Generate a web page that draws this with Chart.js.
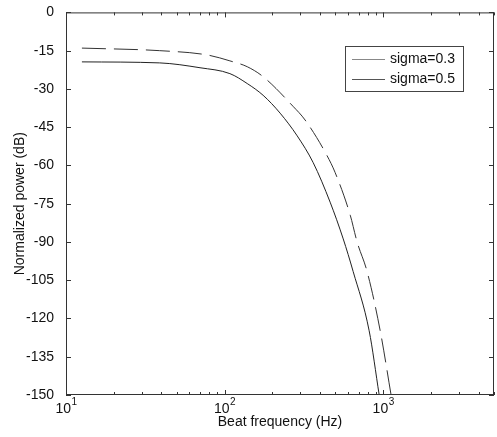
<!DOCTYPE html>
<html>
<head>
<meta charset="utf-8">
<script src="https://cdn.jsdelivr.net/npm/chart.js@4.4.1/dist/chart.umd.min.js"></script>
<style>
  html, body { margin: 0; padding: 0; background: #fff; }
  #wrap { width: 497px; height: 437px; }
</style>
</head>
<body>
<div id="wrap"><canvas id="powerChart"></canvas></div>
<script>
// values
const sigma03Freq  = [12.6, 39, 78, 108, 139, 175, 270, 322, 443, 498, 620, 685, 792, 958, 1122];
const sigma03Power = [-14, -15, -16.7, -19, -21.3, -25.2, -36.8, -42.2, -56.2, -62.8, -79.5, -90, -101.6, -124.8, -150];
const sigma05Freq  = [12.6, 39, 70, 108, 139, 175, 224, 287, 362, 463, 560, 647, 816, 944];
const sigma05Power = [-19.4, -19.8, -21.7, -24, -27.9, -32.5, -39.5, -48.4, -58.9, -74.4, -88.8, -101.6, -124.8, -150];
const labels = ["sigma=0.3", "sigma=0.5"];
const yTicks = [0, -15, -30, -45, -60, -75, -90, -105, -120, -135, -150];
const xMin = 10, xMax = 5000;

const font = "Liberation Sans, Arial, sans-serif";

function toPoints(xs, ys) {
  return xs.map((x, i) => ({ x: x, y: ys[i] }));
}

function logTicks() {
  const t = [];
  for (let d = 10; d <= xMax; d *= 10) {
    for (let k = 1; k <= 9; k++) {
      if (d * k <= xMax) t.push({ value: d * k });
    }
  }
  return t;
}

function isDecade(v) {
  const e = Math.log10(v);
  return Math.abs(e - Math.round(e)) < 1e-9;
}

// matlab style box, inward ticks on all four sides, 10^n labels and legend inside the plot
const boxPlugin = {
  id: "boxPlugin",
  afterDraw(chart) {
    const ctx = chart.ctx;
    const a = chart.chartArea;
    const xs = chart.scales.x, ys = chart.scales.y;
    ctx.save();
    ctx.strokeStyle = "#333";
    ctx.lineWidth = 1;
    ctx.strokeRect(a.left + 0.5, a.top + 0.5, a.right - a.left - 1, a.bottom - a.top - 1);
    ctx.beginPath();
    xs.ticks.forEach(t => {
      const px = Math.round(xs.getPixelForValue(t.value)) + 0.5;
      const len = isDecade(t.value) ? 5 : 3;
      ctx.moveTo(px, a.bottom); ctx.lineTo(px, a.bottom - len);
      ctx.moveTo(px, a.top); ctx.lineTo(px, a.top + len);
    });
    yTicks.forEach(v => {
      const py = Math.round(ys.getPixelForValue(v)) + 0.5;
      ctx.moveTo(a.left, py); ctx.lineTo(a.left + 5, py);
      ctx.moveTo(a.right, py); ctx.lineTo(a.right - 5, py);
    });
    ctx.stroke();

    // x tick labels as 10 with superscript exponent
    ctx.fillStyle = "#111";
    ctx.textBaseline = "alphabetic";
    xs.ticks.forEach(t => {
      if (!isDecade(t.value)) return;
      const px = xs.getPixelForValue(t.value);
      const exp = String(Math.round(Math.log10(t.value)));
      ctx.font = "14px " + font;
      const w1 = ctx.measureText("10").width;
      ctx.font = "10px " + font;
      const w2 = ctx.measureText(exp).width;
      const x0 = px - (w1 + w2) / 2;
      ctx.font = "14px " + font;
      ctx.fillText("10", x0, a.bottom + 18);
      ctx.font = "10px " + font;
      ctx.fillText(exp, x0 + w1 + 0.5, a.bottom + 10);
    });

    // legend
    const lx = 345, ly = 46, lw = 118, lh = 45;
    ctx.fillStyle = "#fff";
    ctx.fillRect(lx, ly, lw, lh);
    ctx.strokeStyle = "#444";
    ctx.strokeRect(lx + 0.5, ly + 0.5, lw, lh);
    ctx.font = "14px " + font;
    ctx.textBaseline = "middle";
    chart.data.datasets.forEach((ds, i) => {
      const y = ly + 13 + i * 20 + 0.5;
      ctx.strokeStyle = i === 0 ? "#888" : "#555";
      ctx.beginPath();
      ctx.moveTo(lx + 7, y); ctx.lineTo(lx + 40, y);
      ctx.stroke();
      ctx.fillStyle = "#111";
      ctx.fillText(ds.label, lx + 45, y);
    });
    ctx.restore();
  }
};

new Chart(document.getElementById("powerChart"), {
  type: "line",
  data: {
    datasets: [
      { label: labels[0], data: toPoints(sigma03Freq, sigma03Power), borderColor: "#333",
        borderWidth: 1, borderDash: [24, 8], pointRadius: 0, fill: false, cubicInterpolationMode: "monotone" },
      { label: labels[1], data: toPoints(sigma05Freq, sigma05Power), borderColor: "#222",
        borderWidth: 1, pointRadius: 0, fill: false, cubicInterpolationMode: "monotone" }
    ]
  },
  options: {
    responsive: true,
    maintainAspectRatio: false,
    animation: false,
    layout: { padding: { top: 8, right: 3, left: 0, bottom: 0 } },
    plugins: { legend: { display: false }, tooltip: { enabled: false } },
    scales: {
      x: {
        type: "logarithmic",
        min: xMin, max: xMax,
        grid: { display: false },
        border: { display: false },
        afterBuildTicks: s => { s.ticks = logTicks(); },
        afterFit: s => { s.height = 42; },
        ticks: { autoSkip: false, maxRotation: 0, callback: () => "" },
        title: { display: true, text: "Beat frequency (Hz)", color: "#111",
                 font: { family: font, size: 14 }, padding: { top: 0, bottom: 6 } }
      },
      y: {
        min: -150, max: 0,
        grid: { display: false },
        border: { display: false },
        afterBuildTicks: s => { s.ticks = yTicks.map(v => ({ value: v })); },
        afterFit: s => { s.width = 66; },
        ticks: { padding: 4, color: "#111", font: { family: font, size: 14 } },
        title: { display: true, text: "Normalized power (dB)", color: "#111",
                 font: { family: font, size: 14 }, padding: { top: 12, bottom: 0 } }
      }
    }
  },
  plugins: [boxPlugin]
});
</script>
</body>
</html>
